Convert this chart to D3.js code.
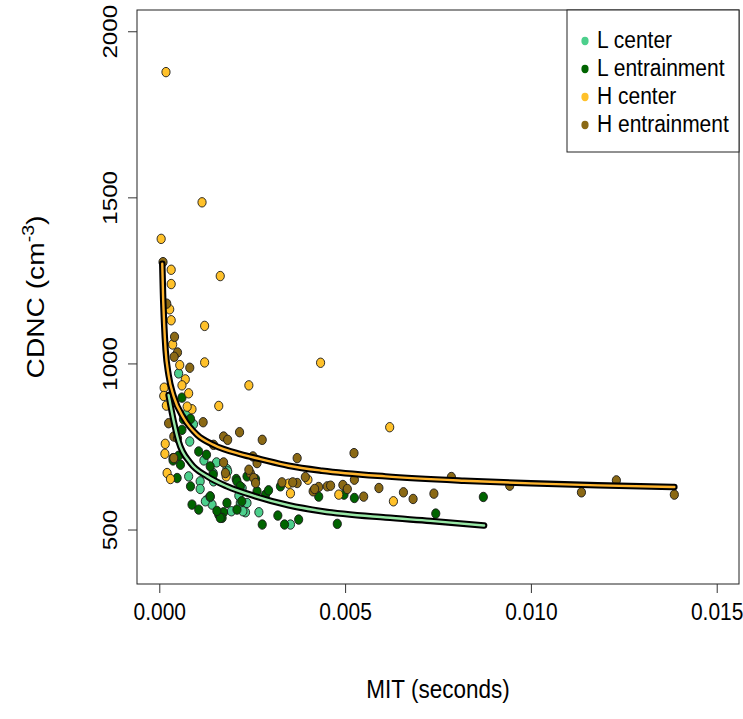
<!DOCTYPE html>
<html><head><meta charset="utf-8">
<script src="https://cdn.jsdelivr.net/npm/d3@7"></script>
<style>
body{margin:0;background:#fff}
svg{display:block}
text{font-family:"Liberation Sans",Arial,Helvetica,sans-serif;fill:#000}
</style>
</head><body>
<svg id="chart" width="743" height="719"></svg>
<script>
// Mixing time (s) vs cloud droplet number concentration (cm^-3)
const groups = ["L center", "L entrainment", "H center", "H entrainment"];
const groupColors = ["#4ccf8c", "#006400", "#ffc12a", "#8b6914"];

const lCenter = [
  [0.00052,970],[0.00075,850],[0.00092,817],[0.00082,765],[0.00120,708],[0.00154,702],
  [0.00182,682],[0.00146,645],[0.00079,660],[0.00110,645],[0.00110,622],[0.00129,590],
  [0.00142,575],[0.00194,555],[0.00232,552],[0.00218,580],[0.00223,625],[0.00214,602],
  [0.00268,552],[0.00353,515],[0.00184,675],[0.00145,670],[0.00124,585],[0.00137,598],
  [0.00225,555],[0.00236,580]
];
const lEntrain = [
  [0.00061,897],[0.00084,833],[0.00061,800],[0.00106,735],[0.00037,715],[0.00052,722],
  [0.00057,695],[0.00127,725],[0.00137,690],[0.00145,665],[0.00048,655],[0.00084,630],
  [0.00137,600],[0.00088,575],[0.00106,560],[0.00160,545],[0.00173,552],[0.00169,535],
  [0.00209,560],[0.00182,580],[0.00259,652],[0.00207,652],[0.00263,615],[0.00286,605],
  [0.00277,515],[0.00319,542],[0.00337,515],[0.00375,530],[0.00326,630],[0.00429,599],
  [0.00497,605],[0.00525,595],[0.00479,517],[0.00744,548],[0.00872,598],[0.00209,645],
  [0.00218,630],[0.00236,660],[0.00222,585],[0.00164,535],[0.00065,832],[0.00294,618],
  [0.00155,556],[0.00037,708]
];
const hCenter = [
  [0.00018,1877],[0.00115,1485],[0.00005,1375],[0.00164,1263],[0.00122,1113],[0.00032,1282],
  [0.00032,1239],[0.00028,1163],[0.00032,1130],[0.00036,1057],[0.00122,1003],[0.00434,1002],
  [0.00241,934],[0.00160,872],[0.00620,808],[0.00055,995],[0.00070,952],[0.00061,934],
  [0.00013,927],[0.00012,902],[0.00079,910],[0.00019,873],[0.00088,862],[0.00075,870],
  [0.00016,758],[0.00015,728],[0.00021,670],[0.00030,652],[0.00180,660],[0.00348,638],
  [0.00353,609],[0.00400,650],[0.00483,605],[0.00630,585]
];
const hEntrain = [
  [0.00010,1305],[0.00041,1080],[0.00020,1180],[0.00049,1033],[0.00040,1020],[0.00082,987],
  [0.00118,823],[0.00025,820],[0.00173,780],[0.00184,770],[0.00216,793],[0.00039,780],
  [0.00049,775],[0.00277,770],[0.00371,715],[0.00524,730],[0.00146,755],[0.00245,670],
  [0.00254,655],[0.00241,680],[0.00371,640],[0.00330,642],[0.00359,642],[0.00393,658],
  [0.00414,615],[0.00429,628],[0.00452,630],[0.00494,634],[0.00506,622],[0.00550,599],
  [0.00591,625],[0.00525,650],[0.00657,612],[0.00683,592],[0.00739,608],[0.00786,658],
  [0.00943,632],[0.01136,612],[0.01230,648],[0.01386,605],[0.00178,670],[0.00173,702],
  [0.00263,700],[0.00039,715],[0.00418,622],[0.00461,632],[0.00252,720],[0.00259,640]
];

// fitted curves for the L and H cases
const lFit = [
  [0.00025,905],[0.00039,825],[0.00052,765],[0.00084,700],[0.00129,660],[0.00182,630],
  [0.00259,600],[0.00348,573],[0.00438,555],[0.00609,536],[0.00730,526],[0.00874,512]
];
const hFit = [
  [0.00008,1300],[0.00010,1210],[0.00013,1120],[0.00017,1040],[0.00025,965],[0.00039,900],
  [0.00066,835],[0.00102,785],[0.00146,755],[0.00218,727],[0.00272,712],[0.00348,692],
  [0.00438,677],[0.00609,660],[0.00820,647],[0.01000,639],[0.01180,633],[0.01386,628]
];

const xTicks = [0, 0.005, 0.010, 0.015];
const yTicks = [500, 1000, 1500, 2000];

const svg = d3.select("#chart");
const L = 137, R = 739, T = 10, B = 584;
const SY = 1.15; // glyphs are drawn slightly taller than wide

const x = d3.scaleLinear().domain([-0.0006, 0.0156]).range([L, R]);
const y = d3.scaleLinear().domain([336, 2064]).range([B, T]);

// points
const series = [lCenter, lEntrain, hCenter, hEntrain];
series.forEach((pts, i) => {
  svg.append("g").selectAll("ellipse").data(pts).join("ellipse")
    .attr("cx", d => x(d[0])).attr("cy", d => y(d[1]))
    .attr("rx", 4.1).attr("ry", 4.1 * SY)
    .attr("fill", groupColors[i]).attr("stroke", "#1a1a1a").attr("stroke-width", 0.9);
});

// fitted curves: black casing under a coloured line
const line = d3.line().x(d => x(d[0])).y(d => y(d[1])).curve(d3.curveMonotoneX);
[[lFit, "#98e8a6"], [hFit, "#ffb52e"]].forEach(([pts, col]) => {
  svg.append("path").attr("d", line(pts)).attr("fill", "none")
    .attr("stroke", "#000").attr("stroke-width", 6.5).attr("stroke-linecap", "round").attr("stroke-linejoin", "round");
  svg.append("path").attr("d", line(pts)).attr("fill", "none")
    .attr("stroke", col).attr("stroke-width", 2.4).attr("stroke-linecap", "round").attr("stroke-linejoin", "round");
});

// plot frame
svg.append("rect").attr("x", L).attr("y", T).attr("width", R - L).attr("height", B - T)
  .attr("fill", "none").attr("stroke", "#222").attr("stroke-width", 1);

// x axis
const gx = svg.append("g").attr("transform", `translate(0,${B})`)
  .call(d3.axisBottom(x).tickValues(xTicks).tickFormat(d3.format(".3f")).tickSize(9));
gx.select(".domain").remove();
gx.selectAll("line").attr("stroke", "#333");
gx.selectAll("text")
  .attr("font-size", 21).attr("fill", "#000").attr("y", null).attr("dy", null)
  .attr("transform", `translate(0,36) scale(1,${SY})`);

// y axis with labels parallel to the axis
const gy = svg.append("g").attr("transform", `translate(${L},0)`)
  .call(d3.axisLeft(y).tickValues(yTicks).tickFormat(d3.format("d")).tickSize(9));
gy.select(".domain").remove();
gy.selectAll("line").attr("stroke", "#333");
gy.selectAll("text")
  .attr("font-size", 21).attr("fill", "#000")
  .attr("text-anchor", "middle").attr("x", 0).attr("y", 0).attr("dy", null)
  .attr("transform", `translate(-20,0) scale(1,${SY}) rotate(-90)`);

// axis titles
svg.append("text").attr("text-anchor", "middle").attr("font-size", 22.5)
  .attr("transform", `translate(${(L + R) / 2},698) scale(1,${SY})`)
  .text("MIT (seconds)");
const yt = svg.append("text")
  .attr("transform", `translate(44,${(T + B) / 2}) scale(1,${SY}) rotate(-90)`)
  .attr("text-anchor", "middle").attr("font-size", 24.5);
yt.append("tspan").text("CDNC (cm");
yt.append("tspan").attr("font-size", 17).attr("dy", -10).text("-3");
yt.append("tspan").attr("dy", 10).text(")");

// legend
const lg = svg.append("g");
lg.append("rect").attr("x", 567).attr("y", T).attr("width", R - 567).attr("height", 142)
  .attr("fill", "#fff").attr("stroke", "#222").attr("stroke-width", 1);
groups.forEach((g, i) => {
  const cy = 41 + 28 * i;
  lg.append("ellipse").attr("cx", 585).attr("cy", cy).attr("rx", 3.6).attr("ry", 3.6 * SY)
    .attr("fill", groupColors[i]);
  lg.append("text").attr("font-size", 21)
    .attr("transform", `translate(597,${cy + 7}) scale(1,${SY})`)
    .text(g);
});
</script>
</body></html>
